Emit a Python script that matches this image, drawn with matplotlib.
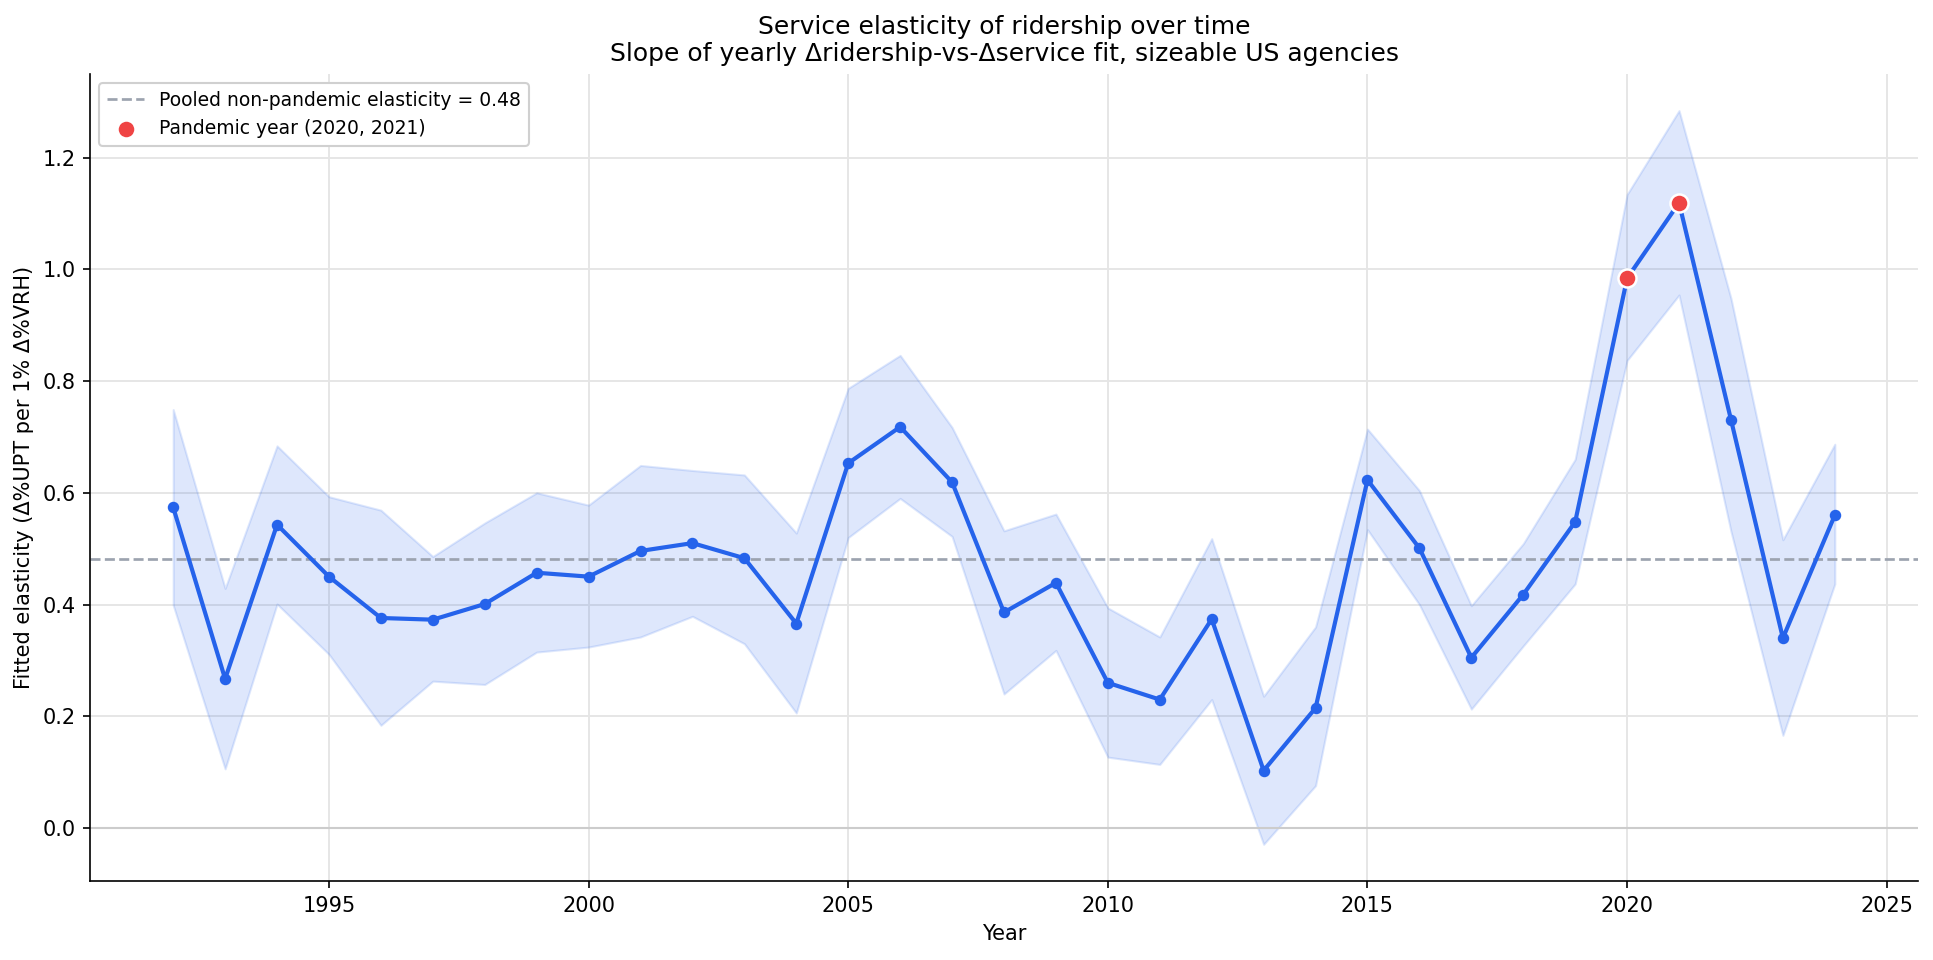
import matplotlib
matplotlib.use("Agg")
import matplotlib.pyplot as plt
import numpy as np

years = list(range(1992, 2025))
elasticity = [0.574, 0.267, 0.543, 0.450, 0.376, 0.373, 0.401, 0.457, 0.450,
              0.496, 0.510, 0.483, 0.366, 0.653, 0.718, 0.619, 0.386, 0.439,
              0.260, 0.230, 0.374, 0.103, 0.215, 0.623, 0.501, 0.305, 0.418,
              0.548, 0.984, 1.119, 0.731, 0.340, 0.560]
ci_upper = [0.749, 0.429, 0.684, 0.593, 0.569, 0.486, 0.546, 0.600, 0.578,
            0.649, 0.640, 0.632, 0.528, 0.787, 0.846, 0.717, 0.532, 0.562,
            0.394, 0.342, 0.518, 0.236, 0.360, 0.714, 0.604, 0.398, 0.509,
            0.660, 1.134, 1.284, 0.948, 0.516, 0.687]
ci_lower = [0.399, 0.106, 0.401, 0.311, 0.184, 0.263, 0.257, 0.315, 0.324,
            0.342, 0.379, 0.330, 0.206, 0.520, 0.590, 0.522, 0.240, 0.318,
            0.127, 0.114, 0.230, -0.029, 0.076, 0.534, 0.400, 0.213, 0.326,
            0.437, 0.837, 0.954, 0.531, 0.166, 0.437]
pooled = 0.482
pandemic_years = [2020, 2021]

BLUE = "#2563eb"
RED = "#ef4444"
GRAY = "#9ca3af"

fig, ax = plt.subplots(figsize=(12.893, 6.4), dpi=150)
fig.subplots_adjust(left=0.0466, right=0.9917, top=0.923, bottom=0.0823)

ax.fill_between(years, ci_lower, ci_upper, color=BLUE, alpha=0.15, linewidth=1)
ax.axhline(0, color="#cccccc", linewidth=1, zorder=1)
ax.axhline(pooled, color=GRAY, linestyle="--", linewidth=1.3,
           label=f"Pooled non-pandemic elasticity = {pooled:.2f}", zorder=2)
ax.plot(years, elasticity, color=BLUE, linewidth=2, marker="o", markersize=4.5, zorder=3)
pe = [elasticity[years.index(y)] for y in pandemic_years]
ax.scatter(pandemic_years, pe, s=75, color=RED, edgecolor="white", linewidth=1.2,
           zorder=4, label="Pandemic year (2020, 2021)")

ax.set_title("Service elasticity of ridership over time\n"
             "Slope of yearly Δridership-vs-Δservice fit, sizeable US agencies", fontsize=12)
ax.set_xlabel("Year")
ax.set_ylabel("Fitted elasticity (Δ%UPT per 1% Δ%VRH)")
ax.grid(True, color="#e5e5e5", linewidth=0.9)
ax.set_axisbelow(True)
ax.spines["top"].set_visible(False)
ax.spines["right"].set_visible(False)
ax.legend(loc="upper left", fontsize=9, framealpha=1, edgecolor="#d0d0d0")

fig.savefig("out.png", dpi=150)
